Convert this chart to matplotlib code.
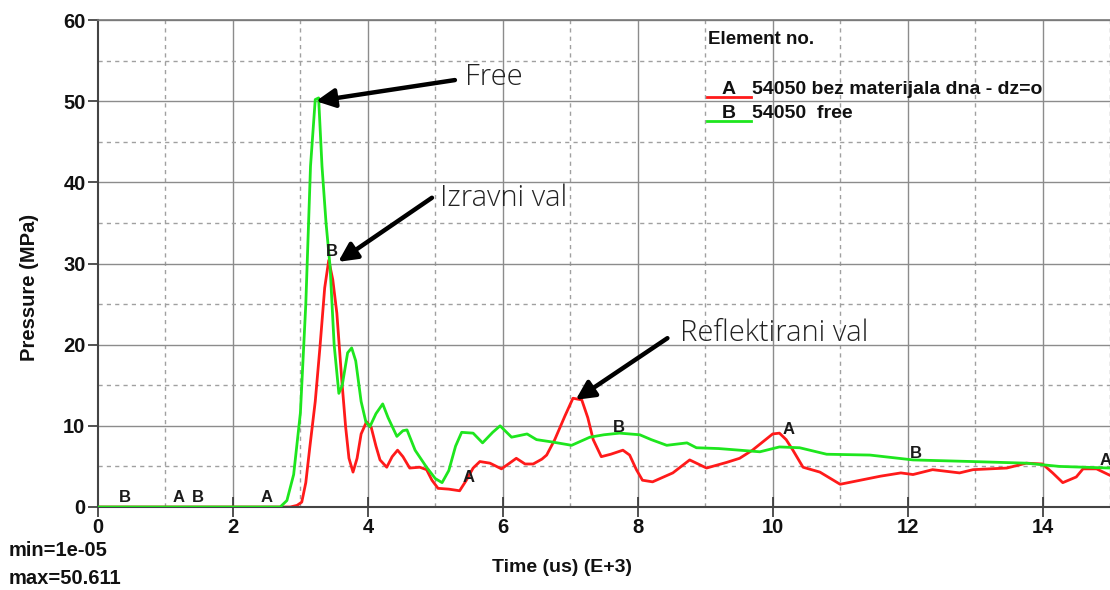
import matplotlib
matplotlib.use("Agg")
import matplotlib.pyplot as plt
from matplotlib.lines import Line2D

# ---- data ----
t_free = [0, 2.7, 2.8, 2.9, 3.0, 3.08, 3.15, 3.22, 3.27, 3.32, 3.38, 3.44, 3.50, 3.57, 3.62,
          3.70, 3.76, 3.82, 3.90, 3.97, 4.03, 4.12, 4.22, 4.30, 4.43, 4.52, 4.58, 4.70, 4.87,
          5.0, 5.10, 5.2, 5.30, 5.39, 5.56, 5.70, 5.85, 5.96, 6.13, 6.36, 6.50, 6.74, 7.02,
          7.29, 7.50, 7.73, 8.03, 8.20, 8.43, 8.73, 8.87, 9.20, 9.51, 9.81, 10.1, 10.4, 10.8,
          11.44, 12.08, 12.96, 13.76, 14.25, 15.0]
p_free = [0, 0, 0.8, 4, 11.6, 25, 42, 50.2, 50.4, 42, 35, 29.6, 20, 14.0, 15,
          19.0, 19.6, 18, 13, 10.5, 9.9, 11.5, 12.7, 11, 8.7, 9.4, 9.5, 7, 4.9,
          3.5, 3.0, 4.5, 7.5, 9.2, 9.1, 7.9, 9.2, 10.0, 8.6, 9.0, 8.3, 8.0, 7.6,
          8.6, 8.9, 9.1, 8.9, 8.3, 7.6, 7.9, 7.3, 7.2, 7.0, 6.8, 7.4, 7.3, 6.5,
          6.4, 5.8, 5.6, 5.4, 5.0, 4.8]

t_bez = [0, 2.85, 2.95, 3.02, 3.08, 3.14, 3.22, 3.29, 3.36, 3.42, 3.48, 3.54, 3.61, 3.67, 3.72,
         3.78, 3.84, 3.90, 3.98, 4.05, 4.12, 4.18, 4.28, 4.36, 4.44, 4.52, 4.62, 4.77, 4.87,
         4.95, 5.04, 5.20, 5.36, 5.46, 5.56, 5.66, 5.81, 5.98, 6.10, 6.20, 6.33, 6.45, 6.58,
         6.65, 6.77, 6.92, 7.04, 7.17, 7.26, 7.34, 7.46, 7.60, 7.78, 7.88, 7.98, 8.07, 8.22,
         8.52, 8.77, 9.02, 9.32, 9.51, 9.70, 9.85, 10.0, 10.1, 10.2, 10.3, 10.45, 10.7, 11.0,
         11.3, 11.6, 11.9, 12.08, 12.37, 12.77, 12.97, 13.47, 13.76, 14.0, 14.15, 14.3, 14.5,
         14.6, 14.8, 15.0]
p_bez = [0, 0, 0.2, 0.6, 3, 7.4, 13, 19.7, 27, 30.4, 28, 23.9, 16, 9.9, 6,
         4.3, 6, 9, 10.5, 9.8, 7.5, 5.8, 4.9, 6.2, 7.0, 6.2, 4.8, 4.9, 4.6,
         3.3, 2.3, 2.2, 2.0, 3.3, 4.8, 5.6, 5.4, 4.7, 5.4, 6.0, 5.3, 5.3, 5.9,
         6.4, 8.3, 11.2, 13.4, 13.2, 11, 8.3, 6.2, 6.5, 7.0, 6.4, 4.6, 3.3, 3.1,
         4.2, 5.8, 4.8, 5.5, 6.0, 7.0, 8.0, 9.0, 9.1, 8.3, 7.0, 4.9, 4.3, 2.8,
         3.3, 3.8, 4.2, 4.0, 4.6, 4.2, 4.6, 4.8, 5.4, 5.3, 4.2, 3.0, 3.7,
         4.7, 4.7, 3.9]

# curve letter markers (label, t, p)
mark_labels = ["B", "A", "B", "A", "B", "A", "B", "A", "B", "A"]
mark_t = [0.4, 1.19, 1.48, 2.5, 3.47, 5.5, 7.72, 10.24, 12.12, 14.93]
mark_p = [0, 0, 0, 0, 30.3, 2.4, 8.6, 8.3, 5.4, 4.5]

x_ticks = [0, 2, 4, 6, 8, 10, 12, 14]
y_ticks = [0, 10, 20, 30, 40, 50, 60]

legend_title = "Element no."
legend_entries = [("A", "54050 bez materijala dna - dz=o"), ("B", "54050  free")]

RED = "#ff1a1a"
GREEN = "#1ee61e"
BOLD_FONT = "Liberation Sans"

W, H = 1110, 590
fig = plt.figure(figsize=(W / 100, H / 100), dpi=100)
fig.patch.set_facecolor("white")

def fx(px):
    return px / W

def fy(py):
    return 1 - py / H

ax = fig.add_axes([fx(98), fy(507), fx(1110) - fx(98), fy(20) - fy(507)])
ax.set_xlim(0, 15)
ax.set_ylim(0, 60)

# grid: solid on majors, dashed on minors
for v in range(1, 16):
    if v % 2 == 0:
        ax.axvline(v, color="#8c8c8c", lw=1.0, zorder=0)
    else:
        ax.axvline(v, color="#a0a0a0", lw=1.0, ls=(0, (3, 3)), zorder=0)
for v in range(5, 61, 5):
    if v % 10 == 0:
        ax.axhline(v, color="#8c8c8c", lw=1.0, zorder=0)
    else:
        ax.axhline(v, color="#a0a0a0", lw=1.0, ls=(0, (3, 3)), zorder=0)

ax.plot(t_free, p_free, color=GREEN, lw=2.0, zorder=3)
ax.plot(t_bez, p_bez, color=RED, lw=2.0, zorder=2)

for lab, tt, pp in zip(mark_labels, mark_t, mark_p):
    ax.text(tt, pp + 0.3, lab, ha="center", va="bottom", fontsize=12,
            family="Liberation Sans", fontweight="bold", color="#1a1a1a", zorder=4)

for side in ["left", "bottom"]:
    ax.spines[side].set_color("#444444")
    ax.spines[side].set_linewidth(1.5)
ax.spines["top"].set_color("#777777")
ax.spines["top"].set_linewidth(1.2)
ax.spines["right"].set_visible(False)

ax.set_xticks(x_ticks)
ax.set_yticks(y_ticks)
ax.tick_params(axis="x", direction="inout", length=14, width=1.2, color="#333333",
               labelsize=14.5, pad=1)
ax.tick_params(axis="y", direction="out", length=7, width=1.2, color="#333333",
               labelsize=14.5, pad=2)
for lbl in ax.get_xticklabels() + ax.get_yticklabels():
    lbl.set_fontfamily(BOLD_FONT)
    lbl.set_fontweight("bold")
    lbl.set_color("#111111")

txt_kw = dict(fontweight="bold", family=BOLD_FONT, color="#111111")
fig.text(fx(30), fy(287), "Pressure (MPa)", rotation=90, ha="center", va="center",
         fontsize=14.5, **txt_kw)
fig.text(fx(562), fy(568), "Time (us) (E+3)", ha="center", va="center",
         fontsize=14, **txt_kw)
fig.text(fx(9), fy(551), "min=1e-05", ha="left", va="center", fontsize=14.5, **txt_kw)
fig.text(fx(9), fy(578), "max=50.611", ha="left", va="center", fontsize=14.5, **txt_kw)

# legend block
leg_kw = dict(fontweight="bold", family="Liberation Sans", color="#111111")
fig.text(fx(708), fy(40), legend_title, ha="left", va="center", fontsize=13.5, **leg_kw)
leg_y = [89, 113]
leg_col = [RED, GREEN]
for (letter, desc), yy, cc in zip(legend_entries, leg_y, leg_col):
    fig.text(fx(722), fy(yy), letter, ha="left", va="center", fontsize=14, **leg_kw)
    fig.text(fx(752), fy(yy), desc, ha="left", va="center", fontsize=14, **leg_kw)
    fig.add_artist(Line2D([fx(707), fx(751)], [fy(yy + 8), fy(yy + 8)], color=cc, lw=2.0))

# annotations
ann_kw = dict(fontsize=21, family="Open Sans", fontweight="light", color="#222222",
              ha="left", va="center")
arrow = dict(arrowstyle="-|>", lw=3.2, color="black", mutation_scale=28, shrinkA=0, shrinkB=0)
ax.annotate("", xy=(3.23, 50.0), xytext=(5.29, 52.6), arrowprops=arrow, zorder=5)
ax.text(5.44, 53.0, "Free", **ann_kw)
ax.annotate("", xy=(3.56, 30.2), xytext=(4.95, 38.1), arrowprops=arrow, zorder=5)
ax.text(5.07, 38.0, "Izravni val", **ann_kw)
ax.annotate("", xy=(7.08, 13.2), xytext=(8.44, 20.8), arrowprops=arrow, zorder=5)
ax.text(8.62, 21.4, "Reflektirani val", **ann_kw)

fig.savefig("out.png", dpi=100, facecolor="white")
